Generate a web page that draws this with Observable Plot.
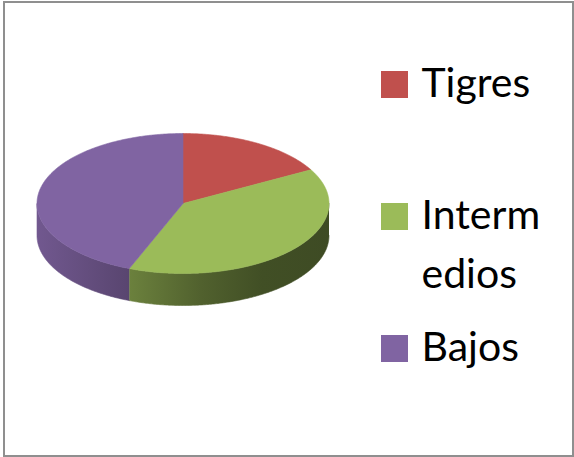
<!DOCTYPE html>
<html><head><meta charset="utf-8">
<script src="https://cdn.jsdelivr.net/npm/d3@7"></script>
<script src="https://cdn.jsdelivr.net/npm/@observablehq/plot@0.6"></script>
<style>body{margin:0;background:#fff}#chart svg{display:block}</style>
</head><body><div id="chart"></div>
<script>
const categories = ["Tigres", "Intermedios", "Bajos"];
const values = [17, 39, 44];
const colors = ["#C0504D", "#9BBB59", "#8064A2"];
const legendLabels = ["Tigres", "Interm\nedios", "Bajos"];

const W = 574, H = 457;
const cx = 182.5, cy = 203, rx = 146, ry = 70, depth = 32;
const legendX = 381, legendBox = 27, legendTop = 84.5, legendStep = 132, textGap = 13;
const fontSize = 41, lineHeight = 1.45, font = "Lato, 'Open Sans', sans-serif";

const slices = d3.pie().sort(null).value(d => d.value)(
  categories.map((c, i) => ({name: c, value: values[i], color: colors[i], label: legendLabels[i], index: i}))
);

function pt(t, dy = 0) { return {x: cx + rx * Math.sin(t), y: cy - ry * Math.cos(t) + dy}; }
function arcPts(a0, a1, dy) {
  const n = Math.max(2, Math.ceil((a1 - a0) / 0.01));
  return d3.range(n + 1).map(k => pt(a0 + (a1 - a0) * k / n, dy));
}

const marks = [];
// visible front sides
slices.forEach((p, i) => {
  const a0 = Math.max(p.startAngle, Math.PI / 2), a1 = Math.min(p.endAngle, 3 * Math.PI / 2);
  if (a1 > a0) {
    const pts = [...arcPts(a0, a1, 0), ...arcPts(a0, a1, depth).reverse()];
    marks.push(Plot.line(pts, {x: "x", y: "y", fill: `url(#side${i})`, stroke: `url(#side${i})`, strokeWidth: 0.6}));
  }
});
// top faces
slices.forEach((p, i) => {
  const pts = [{x: cx, y: cy}, ...arcPts(p.startAngle, p.endAngle, 0), {x: cx, y: cy}];
  marks.push(Plot.line(pts, {x: "x", y: "y", fill: colors[i], stroke: colors[i], strokeWidth: 0.6}));
});
// legend
const legend = slices.map((p, i) => ({
  label: p.data.label, color: p.data.color,
  y: legendTop + i * legendStep
}));
marks.push(Plot.rect(legend, {
  x1: () => legendX, x2: () => legendX + legendBox,
  y1: d => d.y - legendBox / 2, y2: d => d.y + legendBox / 2,
  fill: d => d.color
}));
marks.push(Plot.text(legend, {
  x: () => legendX + legendBox + textGap,
  y: d => d.y + 12 - 0.71 * lineHeight * fontSize,
  text: "label", textAnchor: "start", lineAnchor: "top", lineHeight,
  fontSize, fontFamily: font, fill: "#000"
}));
marks.push(Plot.frame({stroke: "#8f8f8f", strokeWidth: 2, insetLeft: 3.5, insetTop: 1.5, insetRight: 1.5, insetBottom: 1.5}));

const plot = Plot.plot({
  width: W, height: H, margin: 0,
  x: {domain: [0, W], range: [0, W], axis: null},
  y: {domain: [0, H], range: [0, H], axis: null},
  style: {background: "#fff", fontFamily: font},
  marks
});

// gradients for shaded sides
const xs = plot.scale("x");
const stops = [[0, 0.88], [0.3, 0.70], [0.56, 0.52], [0.77, 0.42], [1, 0.40]];
const defs = d3.select(plot).insert("defs", ":first-child");
slices.forEach((p, i) => {
  const g = defs.append("linearGradient").attr("id", `side${i}`)
    .attr("gradientUnits", "userSpaceOnUse")
    .attr("x1", xs.apply(cx - rx)).attr("x2", xs.apply(cx + rx)).attr("y1", 0).attr("y2", 0);
  const base = d3.rgb(p.data.color);
  stops.forEach(([o, f]) => {
    g.append("stop").attr("offset", o).attr("stop-color", d3.rgb(base.r * f, base.g * f, base.b * f).formatHex());
  });
});

document.getElementById("chart").appendChild(plot);
</script>
</body></html>
